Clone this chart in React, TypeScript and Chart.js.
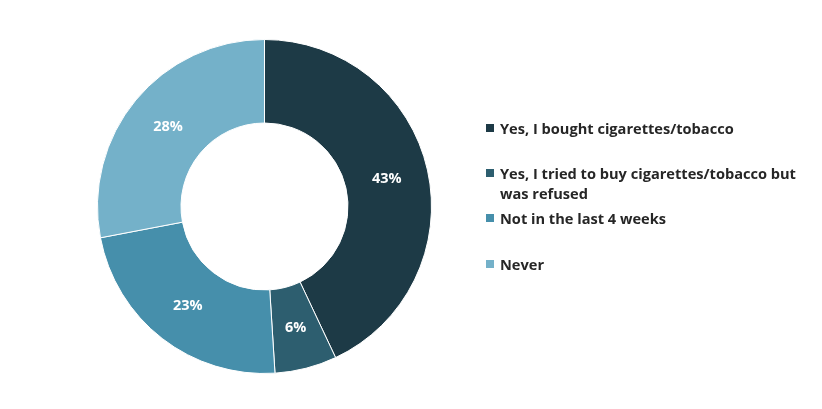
import { useEffect, useRef } from "react";
import { Chart, registerables, ArcElement } from "chart.js";

Chart.register(...registerables);

const categories = [
    "Yes, I bought cigarettes/tobacco",
    "Yes, I tried to buy cigarettes/tobacco but was refused",
    "Not in the last 4 weeks",
    "Never",
];
const shares = [43, 6, 23, 28];
const colours = ["#1d3a46", "#2d5e6f", "#468fab", "#74b1c9"];

const FONT = "'Open Sans', 'DejaVu Sans', sans-serif";

// draws "43%" etc in the middle of each slice
const sliceLabels = {
    id: "sliceLabels",
    afterDatasetsDraw(chart: Chart) {
        const ctx = chart.ctx;
        const meta = chart.getDatasetMeta(0);
        ctx.save();
        ctx.fillStyle = "#ffffff";
        ctx.font = `bold 14.5px ${FONT}`;
        ctx.textAlign = "center";
        ctx.textBaseline = "middle";
        meta.data.forEach((el, i) => {
            const p = (el as ArcElement).tooltipPosition(false);
            ctx.fillText(shares[i] + "%", p.x, p.y);
        });
        ctx.restore();
    },
};

const legendTops = [118, 163, 208, 254];

const App = () => {
    const canvasRef = useRef<HTMLCanvasElement>(null);
    const chartRef = useRef<Chart | null>(null);

    useEffect(() => {
        document.body.style.margin = "0";
        if (!canvasRef.current) return;
        chartRef.current?.destroy();

        chartRef.current = new Chart(canvasRef.current, {
            type: "doughnut",
            data: {
                labels: categories,
                datasets: [
                    {
                        data: shares,
                        backgroundColor: colours,
                        borderColor: "#ffffff",
                        borderWidth: 1,
                    },
                ],
            },
            options: {
                animation: false,
                responsive: true,
                maintainAspectRatio: false,
                cutout: "50%",
                layout: {
                    padding: { left: 97, right: 390, top: 39, bottom: 35 },
                },
                plugins: {
                    legend: { display: false },
                    tooltip: { enabled: false },
                },
            },
            plugins: [sliceLabels],
        });

        return () => {
            chartRef.current?.destroy();
        };
    }, []);

    return (
        <div
            style={{
                position: "relative",
                width: "822px",
                height: "409px",
                background: "#ffffff",
                fontFamily: FONT,
            }}
        >
            <canvas ref={canvasRef} />
            {categories.map((c, i) => (
                <div
                    key={c}
                    style={{
                        position: "absolute",
                        left: "486px",
                        top: legendTops[i] + "px",
                        width: "325px",
                        display: "flex",
                        alignItems: "flex-start",
                        fontSize: "14.6px",
                        fontWeight: 700,
                        lineHeight: "20px",
                        color: "#262626",
                    }}
                >
                    <span
                        style={{
                            flex: "0 0 auto",
                            width: "8px",
                            height: "8px",
                            marginTop: "6px",
                            marginRight: "6px",
                            background: colours[i],
                        }}
                    />
                    <span>{c}</span>
                </div>
            ))}
        </div>
    );
};

export default App;
